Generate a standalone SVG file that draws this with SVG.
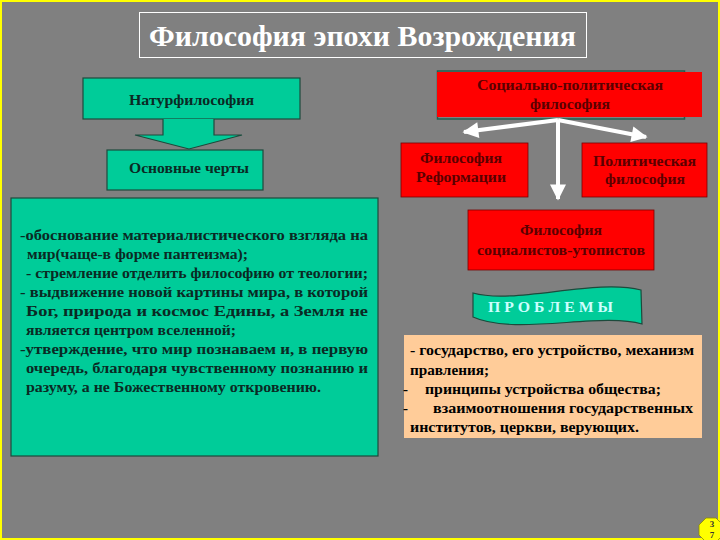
<svg xmlns="http://www.w3.org/2000/svg" width="720" height="540" viewBox="0 0 720 540">
<defs>
<style>
.t{font-family:"Liberation Serif","Times New Roman",serif;font-weight:bold}
.dk{fill:#0a2a24;font-size:14px}
.big{font-size:15px}
.rd{fill:#5a0000;font-size:14px}
.bk{fill:#000;font-size:15px}
.teal{fill:#00CC99;stroke:#1d4a3c;stroke-width:1.2}
.red{fill:#FF0000;stroke:#7a0000;stroke-width:0.8}
.wl{stroke:#fff;stroke-width:4;fill:none}
</style>
<marker id="ah" viewBox="0 0 10 10" refX="9" refY="5" markerWidth="5" markerHeight="4" markerUnits="strokeWidth" orient="auto">
<path d="M0,0 L10,5 L0,10 Z" fill="#fff"/>
</marker>
</defs>
<rect x="0" y="0" width="720" height="540" fill="#808080"/>
<rect x="1" y="1" width="718" height="538" fill="none" stroke="#FFFF00" stroke-width="2"/>

<g id="title">
<rect x="139.5" y="12.5" width="447" height="45" fill="none" stroke="#fff" stroke-width="1"/>
<text class="t" x="362.5" y="46" text-anchor="middle" font-size="30" fill="#fff" textLength="427" lengthAdjust="spacingAndGlyphs">Философия эпохи Возрождения</text>
</g>

<g id="naturphil">
<rect class="teal" x="83" y="78" width="217" height="41"/>
<text class="t dk" x="191.5" y="105" text-anchor="middle" textLength="125" lengthAdjust="spacingAndGlyphs">Натурфилософия</text>
</g>

<g id="block-arrow">
<path class="teal" d="M163,119 L163,135 L135,135 L189,149 L242,135 L214,135 L214,119"/>
</g>

<g id="features">
<rect class="teal" x="107" y="150" width="156" height="40"/>
<text class="t dk" x="189" y="173" text-anchor="middle" textLength="120" lengthAdjust="spacingAndGlyphs">Основные черты</text>
</g>

<g id="features-list">
<rect class="teal" x="11" y="198" width="367" height="258"/>
<g class="t dk big">
<text x="20" y="240" textLength="348" lengthAdjust="spacingAndGlyphs">-обоснование материалистического взгляда на</text>
<text x="27" y="259" textLength="221" lengthAdjust="spacingAndGlyphs">мир(чаще-в форме пантеизма);</text>
<text x="26" y="278" textLength="342" lengthAdjust="spacingAndGlyphs">- стремление отделить философию от теологии;</text>
<text x="20" y="297" textLength="348" lengthAdjust="spacingAndGlyphs">- выдвижение новой картины мира, в которой</text>
<text x="26" y="316" textLength="342" lengthAdjust="spacingAndGlyphs">Бог, природа и космос Едины, а Земля не</text>
<text x="26" y="335" textLength="210" lengthAdjust="spacingAndGlyphs">является центром вселенной;</text>
<text x="20" y="354" textLength="348" lengthAdjust="spacingAndGlyphs">-утверждение, что мир познаваем и, в первую</text>
<text x="26" y="373" textLength="342" lengthAdjust="spacingAndGlyphs">очередь, благодаря чувственному познанию и</text>
<text x="26" y="392" textLength="295" lengthAdjust="spacingAndGlyphs">разуму, а не Божественному откровению.</text>
</g>
</g>

<g id="socpol">
<rect x="437.5" y="71" width="247" height="48" fill="none" stroke="#1f5f4f" stroke-width="1.5"/>
<rect x="437" y="72" width="265" height="45" fill="#FF0000"/>
<text class="t rd" x="570" y="90" text-anchor="middle" textLength="186" lengthAdjust="spacingAndGlyphs">Социально-политическая</text>
<text class="t rd" x="570" y="109" text-anchor="middle" textLength="80" lengthAdjust="spacingAndGlyphs">философия</text>
</g>

<g id="connectors">
<line class="wl" x1="558" y1="120" x2="464" y2="132" marker-end="url(#ah)"/>
<line class="wl" x1="558" y1="120" x2="646" y2="137" marker-end="url(#ah)"/>
<line class="wl" x1="558" y1="120" x2="558" y2="199" marker-end="url(#ah)"/>
</g>

<g id="reformation">
<rect class="red" x="401" y="143" width="127" height="54"/>
<text class="t rd" x="461" y="163" text-anchor="middle" textLength="82" lengthAdjust="spacingAndGlyphs">Философия</text>
<text class="t rd" x="461" y="182" text-anchor="middle" textLength="90" lengthAdjust="spacingAndGlyphs">Реформации</text>
</g>

<g id="political">
<rect class="red" x="582" y="143" width="125" height="54"/>
<text class="t rd" x="644.5" y="166" text-anchor="middle" textLength="103" lengthAdjust="spacingAndGlyphs">Политическая</text>
<text class="t rd" x="645" y="184" text-anchor="middle" textLength="80" lengthAdjust="spacingAndGlyphs">философия</text>
</g>

<g id="utopian">
<rect class="red" x="468" y="210" width="186" height="60"/>
<text class="t rd" x="561" y="235" text-anchor="middle" textLength="82" lengthAdjust="spacingAndGlyphs">Философия</text>
<text class="t rd" x="561" y="255" text-anchor="middle" textLength="168" lengthAdjust="spacingAndGlyphs">социалистов-утопистов</text>
</g>

<g id="problems">
<path class="teal" d="M473,293 C515,305 595,278 641,290 L642,324 C600,312 515,336 473,317 Z"/>
<text class="t" x="550.5" y="312" text-anchor="middle" font-size="15" fill="#CCFFFF" textLength="125" lengthAdjust="spacingAndGlyphs">П Р О Б Л Е М Ы</text>
</g>

<g id="problems-list">
<rect x="404" y="335" width="298" height="103" fill="#FFCC99"/>
<g class="t bk">
<text x="410" y="355" textLength="284" lengthAdjust="spacingAndGlyphs">- государство, его устройство, механизм</text>
<text x="410" y="375" textLength="79" lengthAdjust="spacingAndGlyphs">правления;</text>
<text x="403" y="394">-</text>
<text x="425" y="394" textLength="236" lengthAdjust="spacingAndGlyphs">принципы устройства общества;</text>
<text x="403" y="413">-</text>
<text x="433" y="413" textLength="260" lengthAdjust="spacingAndGlyphs">взаимоотношения государственных</text>
<text x="410" y="432" textLength="229" lengthAdjust="spacingAndGlyphs">институтов,  церкви, верующих.</text>
</g>
</g>

<g id="page-number">
<path d="M706,518 L716,518 L723,525 L723,535 L716,542 L706,542 L699,535 L699,525 Z" fill="#FFFF00" stroke="#8a8a00" stroke-width="0.8"/>
<text class="t" x="712" y="527" text-anchor="middle" font-size="9" fill="#333">3</text>
<text class="t" x="712" y="538" text-anchor="middle" font-size="9" fill="#333">7</text>
</g>
</svg>
